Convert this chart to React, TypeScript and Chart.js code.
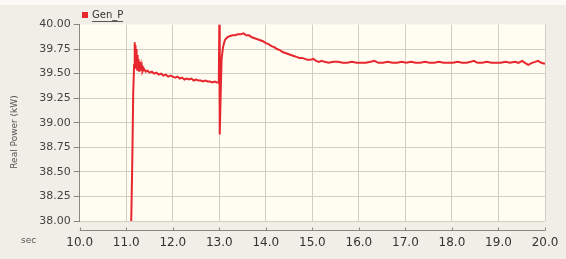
import React, { useEffect, useRef } from "react";
import { Chart, registerables } from "chart.js";

Chart.register(...registerables);

// Time (sec) and real power (kW)
const timeSec: number[] = [
  11.10, 11.13, 11.15, 11.17, 11.180, 11.185, 11.190, 11.195, 11.200, 11.205,
  11.210, 11.215, 11.220, 11.225, 11.230, 11.235, 11.240, 11.245, 11.250, 11.255,
  11.260, 11.265, 11.270, 11.275, 11.280, 11.285, 11.290, 11.295, 11.300, 11.31,
  11.32, 11.33, 11.34, 11.35, 11.37,
  11.38, 11.42, 11.46, 11.50, 11.55, 11.60, 11.65, 11.70, 11.75, 11.80,
  11.85, 11.90, 11.95, 12.00, 12.05, 12.10, 12.15, 12.20, 12.25, 12.30,
  12.35, 12.40, 12.45, 12.50, 12.55, 12.60, 12.65, 12.70, 12.75, 12.80,
  12.85, 12.90, 12.95, 12.99, 13.00, 13.01, 13.03, 13.05, 13.08, 13.12,
  13.17, 13.22, 13.28, 13.34, 13.40, 13.46, 13.52, 13.58, 13.64, 13.70,
  13.76, 13.82, 13.88, 13.94, 14.00, 14.06, 14.12, 14.18, 14.24, 14.30,
  14.36, 14.42, 14.48, 14.54, 14.60, 14.66, 14.72, 14.78, 14.84, 14.90,
  14.96, 15.02, 15.08, 15.14, 15.20, 15.26, 15.35, 15.45, 15.55, 15.65,
  15.75, 15.85, 15.95, 16.05, 16.15, 16.25, 16.33, 16.42, 16.52, 16.62,
  16.72, 16.82, 16.92, 17.02, 17.12, 17.22, 17.32, 17.42, 17.52, 17.62,
  17.72, 17.82, 17.92, 18.02, 18.12, 18.22, 18.32, 18.40, 18.47, 18.55,
  18.65, 18.75, 18.85, 18.95, 19.05, 19.15, 19.25, 19.35, 19.43, 19.51,
  19.57, 19.64, 19.72, 19.79, 19.85, 19.92, 20.00,
];

const powerKW: number[] = [
  37.80, 38.60, 39.30, 39.60, 39.82, 39.56, 39.79, 39.55, 39.77, 39.56,
  39.75, 39.55, 39.73, 39.55, 39.71, 39.54, 39.69, 39.55, 39.67, 39.54,
  39.65, 39.54, 39.63, 39.53, 39.62, 39.54, 39.60, 39.53, 39.59, 39.53,
  39.57, 39.53, 39.56, 39.52, 39.54,
  39.55, 39.52, 39.53, 39.51, 39.52, 39.50, 39.51, 39.49, 39.50, 39.48,
  39.49, 39.47, 39.48, 39.47, 39.46, 39.47, 39.45, 39.46, 39.44, 39.45,
  39.44, 39.45, 39.43, 39.44, 39.43, 39.43, 39.42, 39.43, 39.42, 39.42,
  39.41, 39.42, 39.41, 39.41, 40.00, 38.88, 39.30, 39.65, 39.77, 39.84,
  39.87, 39.88, 39.89, 39.89, 39.90, 39.90, 39.91, 39.89, 39.89, 39.87,
  39.86, 39.85, 39.84, 39.83, 39.81, 39.80, 39.78, 39.77, 39.75, 39.74,
  39.72, 39.71, 39.70, 39.69, 39.68, 39.67, 39.66, 39.66, 39.65, 39.64,
  39.64, 39.65, 39.63, 39.62, 39.63, 39.62, 39.61, 39.62, 39.62, 39.61,
  39.61, 39.62, 39.61, 39.61, 39.61, 39.62, 39.63, 39.61, 39.61, 39.62,
  39.61, 39.61, 39.62, 39.61, 39.62, 39.61, 39.61, 39.62, 39.61, 39.61,
  39.62, 39.61, 39.61, 39.61, 39.62, 39.61, 39.61, 39.62, 39.63, 39.61,
  39.61, 39.62, 39.61, 39.61, 39.61, 39.62, 39.61, 39.62, 39.61, 39.63,
  39.61, 39.59, 39.61, 39.62, 39.63, 39.61, 39.60,
];

const xTickLabelsFrom = 10;
const xTickLabelsTo = 20;
const yMin = 38;
const yMax = 40;
const seriesName = "Gen_P";
const yTitle = "Real Power (kW)";
const xUnit = "sec";

const RED = "#e8262e";

const decor = {
  id: "decor",
  beforeDraw(chart: any) {
    const { ctx, chartArea, width, height } = chart;
    ctx.save();
    ctx.fillStyle = "#f1eee8";
    ctx.fillRect(0, 0, width, height);
    ctx.fillStyle = "#fbfaf7";
    ctx.fillRect(0, 0, width, 5);
    ctx.fillStyle = "#fffdf2";
    ctx.fillRect(chartArea.left, chartArea.top, chartArea.right - chartArea.left, chartArea.bottom - chartArea.top);
    ctx.restore();
  },
  afterDraw(chart: any) {
    const { ctx, chartArea, scales } = chart;
    const xs = scales.x;
    ctx.save();
    const yLine = chartArea.bottom + 9.5;
    ctx.strokeStyle = "#8a8780";
    ctx.lineWidth = 1;
    ctx.beginPath();
    ctx.moveTo(xs.getPixelForValue(xTickLabelsFrom), yLine);
    ctx.lineTo(xs.getPixelForValue(xTickLabelsTo), yLine);
    for (let v = xTickLabelsFrom; v <= xTickLabelsTo; v++) {
      const px = Math.round(xs.getPixelForValue(v)) + 0.5;
      ctx.moveTo(px, yLine);
      ctx.lineTo(px, yLine - 3);
    }
    ctx.stroke();
    ctx.fillStyle = "#555";
    ctx.font = "9px 'DejaVu Sans'";
    ctx.textAlign = "left";
    ctx.textBaseline = "middle";
    ctx.fillText(xUnit, 21, 241);
    ctx.save();
    ctx.translate(15, 132);
    ctx.rotate(-Math.PI / 2);
    ctx.textAlign = "center";
    ctx.textBaseline = "middle";
    ctx.font = "9px 'DejaVu Sans'";
    ctx.fillStyle = "#555";
    ctx.fillText(yTitle, 0, 0);
    ctx.restore();
    ctx.fillStyle = RED;
    ctx.fillRect(82, 12, 6, 6);
    ctx.fillStyle = "#333";
    ctx.font = "10px 'DejaVu Sans'";
    ctx.textAlign = "left";
    ctx.textBaseline = "middle";
    ctx.fillText(seriesName, 92, 15);
    ctx.strokeStyle = "#555";
    ctx.beginPath();
    ctx.moveTo(92, 21.5);
    ctx.lineTo(123, 21.5);
    ctx.stroke();
    ctx.restore();
  },
};

export default function App() {
  const ref = useRef<HTMLCanvasElement | null>(null);
  useEffect(() => {
    if (!ref.current) return;
    const data = timeSec.map((t, i) => ({ x: t, y: powerKW[i] }));
    const chart = new Chart(ref.current, {
      type: "line",
      data: {
        datasets: [
          {
            label: seriesName,
            data,
            borderColor: RED,
            borderWidth: 2,
            pointRadius: 0,
            tension: 0,
            fill: false,
          },
        ],
      },
      options: {
        animation: false,
        responsive: false,
        maintainAspectRatio: false,
        layout: { padding: { top: 24.5, right: 21, left: 0, bottom: 0 } },
        plugins: { legend: { display: false }, tooltip: { enabled: false } },
        scales: {
          x: {
            type: "linear",
            min: xTickLabelsFrom,
            max: xTickLabelsTo,
            ticks: {
              stepSize: 1,
              callback: (v: any) => Number(v).toFixed(1),
              font: { family: "'DejaVu Sans'", size: 12 },
              color: "#333",
              padding: 15,
              maxRotation: 0,
            },
            grid: { color: "#d2cec3", drawTicks: false },
            border: { display: false },
            afterFit: (s: any) => {
              s.height = 38;
              s.paddingLeft = 0;
              s.paddingRight = 0;
            },
          },
          y: {
            min: yMin,
            max: yMax,
            ticks: {
              stepSize: 0.25,
              callback: (v: any) => Number(v).toFixed(2),
              font: { family: "'DejaVu Sans'", size: 11 },
              color: "#444",
              padding: 3,
            },
            grid: {
              color: (c: any) => (c.tick && c.tick.value === yMax ? "rgba(0,0,0,0)" : "#d2cec3"),
              tickColor: "#8a8780",
              tickLength: 6,
            },
            border: { display: true, color: "#8a8780" },
            afterFit: (s: any) => {
              s.width = 79.7;
              s.paddingTop = 0;
              s.paddingBottom = 0;
            },
          },
        },
      },
      plugins: [decor],
    });
    return () => chart.destroy();
  }, []);
  return (
    <div style={{ position: "fixed", left: 0, top: 0, width: 566, height: 259 }}>
      <canvas ref={ref} width={566} height={259} style={{ display: "block" }} />
    </div>
  );
}
